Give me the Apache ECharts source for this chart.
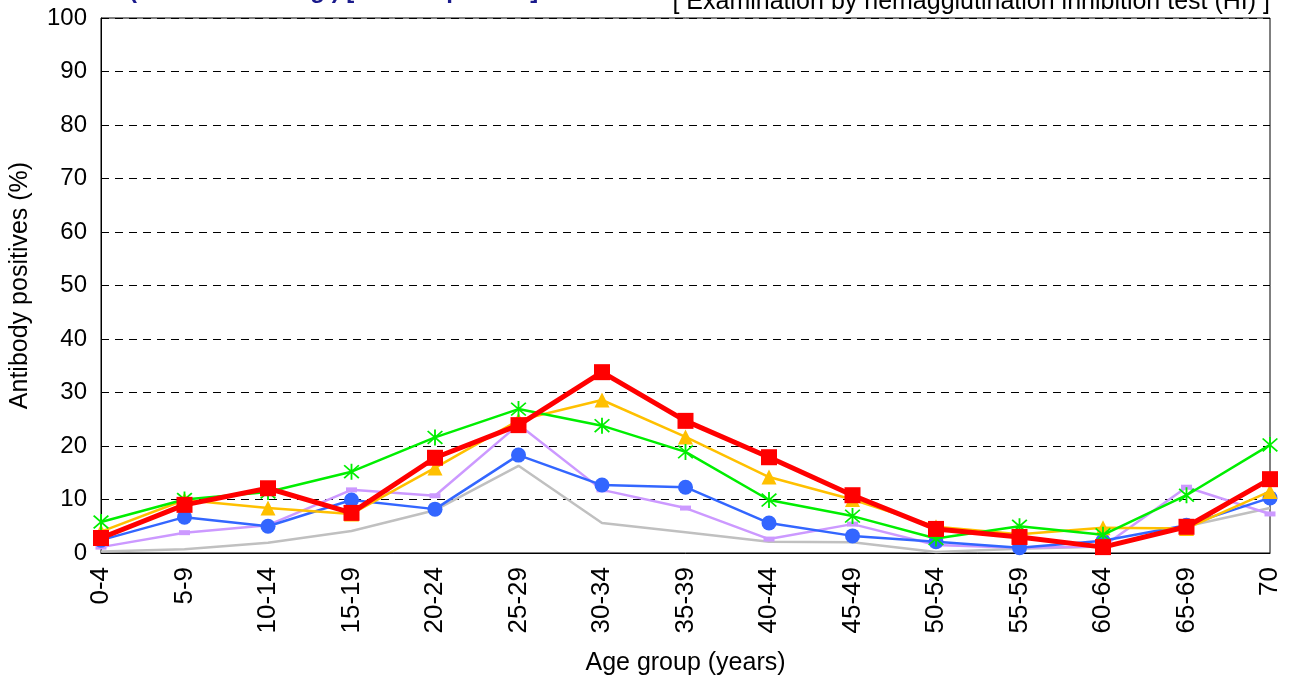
<!DOCTYPE html>
<html><head><meta charset="utf-8">
<script src="https://cdn.jsdelivr.net/npm/echarts@6/dist/echarts.min.js"></script>
<style>html,body{margin:0;padding:0;background:#fff}#c{width:1289px;height:684px}</style>
</head><body><div id="c"></div>
<script>
const categories = ['0-4','5-9','10-14','15-19','20-24','25-29','30-34','35-39','40-44','45-49','50-54','55-59','60-64','65-69','70'];
const yTicks = [0,10,20,30,40,50,60,70,80,90,100];
const seriesGray   = [0.3,0.7,1.9,4.1,8.0,16.3,5.6,3.9,2.1,2.0,0.2,0.8,1.2,5.0,8.4];
const seriesPurple = [1.1,3.8,5.2,11.8,10.7,24.0,11.8,8.4,2.6,5.4,1.5,1.0,1.2,12.3,7.3];
const seriesBlue   = [2.4,6.7,5.0,9.9,8.2,18.3,12.7,12.3,5.6,3.2,2.1,1.0,2.3,5.2,10.3];
const seriesYellow = [4.0,9.9,8.4,7.3,15.9,24.8,28.6,21.7,14.2,10.0,4.9,3.5,4.7,4.6,11.5];
const seriesGreen  = [5.8,10.0,11.4,15.2,21.6,26.9,23.8,18.9,9.9,6.9,2.7,5.0,3.4,10.8,20.2];
const seriesRed    = [2.8,9.0,12.1,7.5,17.8,23.9,33.8,24.7,17.9,10.8,4.5,3.0,1.1,4.9,13.8];

const FONT = 'Liberation Sans, Arial, sans-serif';
const asterisk = 'path://M9 0L11 0L11 20L9 20Z M2.7 1.3L18.7 17.3L17.3 18.7L1.3 2.7Z M17.3 1.3L18.7 2.7L2.7 18.7L1.3 17.3Z';

const chart = echarts.init(document.getElementById('c'));
chart.setOption({
  animation: false,
  backgroundColor: '#fff',
  grid: {left: 101, right: 19, top: 18, bottom: 131, show: true, borderColor: '#000', borderWidth: 1,
    backgroundColor: 'transparent', containLabel: false, outerBoundsMode: 'none'},
  graphic: [
    {type: 'text', left: 129, top: -21, style: {text: '(as of end of Aug.) [ A/H1N1pdm09 ]', font: 'bold 24px ' + FONT, fill: '#1a1a8c'}},
    {type: 'text', right: 19, top: -10, style: {text: '[ Examination by hemagglutination inhibition test (HI) ]', font: '25px ' + FONT, fill: '#000'}}
  ],
  xAxis: {
    type: 'category', data: categories, boundaryGap: false,
    name: 'Age group (years)', nameLocation: 'middle', nameGap: 98,
    nameTextStyle: {fontSize: 25, fontFamily: FONT, color: '#000'},
    axisLine: {lineStyle: {color: '#000', width: 1}},
    axisTick: {show: false},
    axisLabel: {rotate: 90, fontSize: 26, fontFamily: FONT, color: '#000', margin: 14, interval: 0},
    splitLine: {show: false}
  },
  yAxis: {
    type: 'value', min: 0, max: 100, interval: 10,
    name: 'Antibody positives (%)', nameLocation: 'middle', nameGap: 68,
    nameTextStyle: {fontSize: 25, fontFamily: FONT, color: '#000'},
    axisLine: {show: true, lineStyle: {color: '#000', width: 1}},
    axisTick: {show: false},
    axisLabel: {fontSize: 24, fontFamily: FONT, color: '#000', margin: 14,
      formatter: v => yTicks.includes(v) ? String(v) : ''},
    splitLine: {show: true, lineStyle: {color: '#000', type: [8, 6], width: 1}}
  },
  series: [
    {name: 'Gray', type: 'line', data: seriesGray, showSymbol: false, symbol: 'none',
      lineStyle: {color: '#c0c0c0', width: 2.5}, z: 2},
    {name: 'Purple', type: 'line', data: seriesPurple, symbol: 'rect', symbolSize: [11, 5],
      lineStyle: {color: '#cc99ff', width: 2.5}, itemStyle: {color: '#cc99ff'}, z: 3},
    {name: 'Blue', type: 'line', data: seriesBlue, symbol: 'circle', symbolSize: 15,
      lineStyle: {color: '#3366ff', width: 2.5}, itemStyle: {color: '#3366ff'}, z: 4},
    {name: 'Yellow', type: 'line', data: seriesYellow, symbol: 'triangle', symbolSize: 15,
      lineStyle: {color: '#ffc000', width: 2.5}, itemStyle: {color: '#ffc000'}, z: 5},
    {name: 'Green', type: 'line', data: seriesGreen, symbol: asterisk, symbolSize: 16,
      lineStyle: {color: '#00ee00', width: 2.5}, itemStyle: {color: '#00ee00'}, z: 6},
    {name: 'Red', type: 'line', data: seriesRed, symbol: 'rect', symbolSize: 16,
      lineStyle: {color: '#ff0000', width: 5}, itemStyle: {color: '#ff0000'}, z: 7}
  ]
});
</script></body></html>
